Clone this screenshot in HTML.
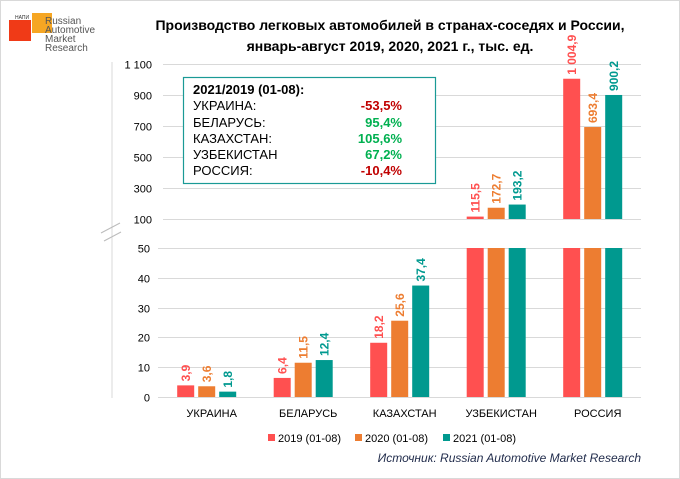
<!DOCTYPE html>
<html><head><meta charset="utf-8"><style>
body{margin:0;background:#fff;}
#wrap{position:relative;width:678px;height:477px;border:1px solid #d9d9d9;font-family:"Liberation Sans",sans-serif;overflow:hidden}
</style></head><body>
<div id="wrap">
<svg id="chart" width="680" height="479" xmlns="http://www.w3.org/2000/svg" style="position:absolute;left:-1px;top:-1px">
 <g>
  <rect x="32" y="13" width="20" height="20" fill="#F6A623"/>
  <rect x="9" y="20" width="22" height="21" fill="#F03A17"/>
  <text x="15" y="19" font-size="5" fill="#333">НАПИ</text>
  <text x="45" y="24" font-size="10" fill="#555">Russian</text>
  <text x="45" y="33" font-size="10" fill="#555">Automotive</text>
  <text x="45" y="42" font-size="10" fill="#555">Market</text>
  <text x="45" y="51" font-size="10" fill="#555">Research</text>
 </g>
 <text x="390" y="30" text-anchor="middle" font-size="14" font-weight="bold" fill="#000">Производство легковых автомобилей в странах-соседях и России,</text>
 <text x="390" y="51" text-anchor="middle" font-size="14" font-weight="bold" fill="#000">январь-август 2019, 2020, 2021 г., тыс. ед.</text>
 <line x1="112" y1="62" x2="112" y2="398" stroke="#d9d9d9"/>
 <line x1="101" y1="233" x2="120" y2="223" stroke="#bbb"/>
 <line x1="104" y1="241" x2="121" y2="232" stroke="#bbb"/>
 <g id="grid"></g><g id="bars"></g><g id="labels"></g>
 <g>
  <rect x="183.5" y="77.5" width="252" height="106" fill="#fff" stroke="#1A9A96" stroke-width="1.2"/>
  <text x="193" y="94" font-size="13" font-weight="bold">2021/2019 (01-08):</text>
  <g font-size="13" fill="#000">
   <text x="193" y="110">УКРАИНА:</text><text x="193" y="127">БЕЛАРУСЬ:</text><text x="193" y="143">КАЗАХСТАН:</text><text x="193" y="159">УЗБЕКИСТАН</text><text x="193" y="175">РОССИЯ:</text>
  </g>
  <g font-size="13" font-weight="bold" text-anchor="end">
   <text x="402" y="110" fill="#C00000">-53,5%</text><text x="402" y="127" fill="#00B050">95,4%</text><text x="402" y="143" fill="#00B050">105,6%</text><text x="402" y="159" fill="#00B050">67,2%</text><text x="402" y="175" fill="#C00000">-10,4%</text>
  </g>
 </g>
 <g font-size="11">
  <rect x="268" y="434" width="7" height="7" fill="#FF5050"/><text x="278" y="442">2019 (01-08)</text>
  <rect x="355" y="434" width="7" height="7" fill="#ED7D31"/><text x="365" y="442">2020 (01-08)</text>
  <rect x="443" y="434" width="7" height="7" fill="#00998F"/><text x="453" y="442">2021 (01-08)</text>
 </g>
 <text x="641" y="462" text-anchor="end" font-size="12" font-style="italic" fill="#1F2A4A">Источник: Russian Automotive Market Research</text>
</svg>
</div>
<script>
const categories=["УКРАИНА","БЕЛАРУСЬ","КАЗАХСТАН","УЗБЕКИСТАН","РОССИЯ"];
const v2019=[3.9,6.4,18.2,115.5,1004.9];
const v2020=[3.6,11.5,25.6,172.7,693.4];
const v2021=[1.8,12.4,37.4,193.2,900.2];
const labels2019=["3,9","6,4","18,2","115,5","1 004,9"];
const labels2020=["3,6","11,5","25,6","172,7","693,4"];
const labels2021=["1,8","12,4","37,4","193,2","900,2"];
const lowTicks=[0,10,20,30,40,50];
const highTicks=[100,300,500,700,900,1100];
const highTickLabels=["100","300","500","700","900","1 100"];
const NS="http://www.w3.org/2000/svg";
function yLow(v){return 397-Math.min(v,50)*2.98;}
function yHigh(v){return 219-(v-100)*0.155;}
function xCat(i){return 206.7+i*96.5;}
function mk(tag,attrs,parent){const e=document.createElementNS(NS,tag);for(const k in attrs)e.setAttribute(k,attrs[k]);parent.appendChild(e);return e;}
const grid=document.getElementById('grid'),bars=document.getElementById('bars'),lab=document.getElementById('labels');
lowTicks.forEach(t=>{const y=Math.round(yLow(t))+0.5;
 const l=mk('line',{x1:158,x2:641,y1:y,y2:y,stroke:'#d9d9d9'},grid);
 
 
 const tx=mk('text',{x:150,y:y+4,'text-anchor':'end','font-size':11},grid);tx.textContent=t;
 
 });
highTicks.forEach((t,i)=>{const y=Math.round(yHigh(t))+0.5;
 const l=mk('line',{x1:163,x2:641,y1:y,y2:y,stroke:'#d9d9d9'},grid);
 
 
 const tx=mk('text',{x:152,y:y+4,'text-anchor':'end','font-size':11},grid);tx.textContent=highTickLabels[i];
 
 });
const series=[[v2019,labels2019,'#FF5050'],[v2020,labels2020,'#ED7D31'],[v2021,labels2021,'#00998F']];
categories.forEach((c,i)=>{
 const cx=xCat(i);
 const t=mk('text',{x:cx+5,y:417,'text-anchor':'middle','font-size':11},lab);t.textContent=c;
 
 
 series.forEach((s,j)=>{
  const v=s[0][i];const x=cx-29.5+j*21;
  const yl=yLow(v);
  const b=mk('rect',{x:x,y:yl,width:17,height:397-yl,fill:s[2]},bars);
  
  
  let top=yl;
  if(v>100){const yh=yHigh(v);const b2=mk('rect',{x:x,y:yh,width:17,height:219-yh,fill:s[2]},bars);
   
   
   top=yh;}
  const lx=x+8.5+4.5,ly=top-4;
  const tl=mk('text',{x:lx,y:ly,transform:`rotate(-90 ${lx} ${ly})`,'font-size':12,'font-weight':'bold',fill:s[2]},lab);
  tl.textContent=s[1][i];
  
  
 });
});
</script>
</body></html>
